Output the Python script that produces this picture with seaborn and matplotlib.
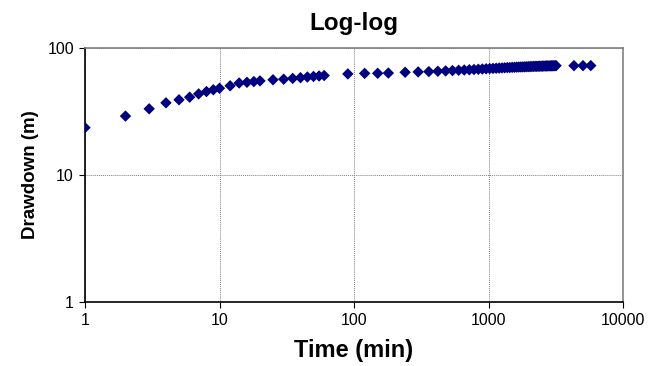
import seaborn as sns
import matplotlib.pyplot as plt
import matplotlib
import pandas as pd

# pumping test, time since start (min) and drawdown (m)
time_min = [1, 2, 3, 4, 5, 6, 7, 8, 9, 10,
            12, 14, 16, 18, 20, 25, 30, 35, 40, 45, 50, 55, 60,
            90, 120, 150, 180,
            240, 300, 360, 420, 480, 540, 600, 660, 720, 780, 840, 900,
            960, 1020, 1080, 1140, 1200, 1260, 1320, 1380, 1440, 1500,
            1560, 1620, 1680, 1740, 1800, 1860, 1920, 1980, 2040, 2100,
            2160, 2220, 2280, 2340, 2400, 2460, 2520, 2580, 2640, 2700,
            2760, 2820, 2880, 2940, 3000, 3060, 3120, 3180,
            4320, 5040, 5760]
drawdown_m = [23.6, 29.1, 33.2, 37.0, 39.1, 41.0, 43.5, 45.4, 46.9, 48.2,
              50.4, 53.0, 53.7, 54.4, 55.1, 56.2, 56.8, 57.6, 58.4, 59.1, 59.7, 60.2, 60.7,
              62.5, 63.1, 63.2, 63.5,
              64.4, 64.8, 65.2, 65.6, 66.0, 66.4, 66.8, 67.1, 67.4, 67.7, 68.0, 68.3,
              68.6, 68.9, 69.1, 69.3, 69.5, 69.7, 69.9, 70.1, 70.2, 70.4,
              70.5, 70.7, 70.8, 70.9, 71.0, 71.1, 71.2, 71.3, 71.4, 71.5,
              71.6, 71.7, 71.7, 71.8, 71.9, 71.9, 72.0, 72.1, 72.1, 72.2,
              72.2, 72.3, 72.3, 72.4, 72.4, 72.5, 72.5, 72.6,
              72.6, 72.6, 72.7]

df = pd.DataFrame({'time': time_min, 'drawdown': drawdown_m})

sns.set_style('white')
matplotlib.rcParams['font.family'] = ['Liberation Sans', 'DejaVu Sans']
matplotlib.rcParams['text.color'] = 'black'
matplotlib.rcParams['axes.labelcolor'] = 'black'
matplotlib.rcParams['xtick.color'] = 'black'
matplotlib.rcParams['ytick.color'] = 'black'

fig = plt.figure(figsize=(6.61, 3.66), dpi=100)
ax = fig.add_axes([85/661, 1 - 302/366, 538/661, 254/366])

sns.scatterplot(data=df, x='time', y='drawdown', ax=ax, marker='D', s=34,
                color='#000080', edgecolor='none', legend=False, zorder=3)

ax.set_xscale('log')
ax.set_yscale('log')
ax.set_xlim(1, 10000)
ax.set_ylim(1, 100)
ax.set_xticks([1, 10, 100, 1000, 10000])
ax.set_xticklabels(['1', '10', '100', '1000', '10000'])
ax.set_yticks([1, 10, 100])
ax.set_yticklabels(['1', '10', '100'])
ax.minorticks_off()
ax.tick_params(axis='both', which='major', direction='out', length=4, width=0.8,
               color='black', labelsize=11.5, left=True, bottom=True, pad=4)

ax.grid(True, which='major', color='#808080', linestyle=(0, (1, 1)), linewidth=0.7)
ax.set_axisbelow(True)

for side in ['top', 'right']:
    ax.spines[side].set_color('#808080')
    ax.spines[side].set_linewidth(1.2)
for side in ['left', 'bottom']:
    ax.spines[side].set_color('black')
    ax.spines[side].set_linewidth(1.2)

ax.set_title('Log-log', fontsize=17.5, fontweight='bold', pad=13)
ax.set_xlabel('Time (min)', fontsize=17, fontweight='bold', labelpad=8)
ax.set_ylabel('Drawdown (m)', fontsize=13.5, fontweight='bold', labelpad=6)

fig.savefig('out.png', dpi=100)
